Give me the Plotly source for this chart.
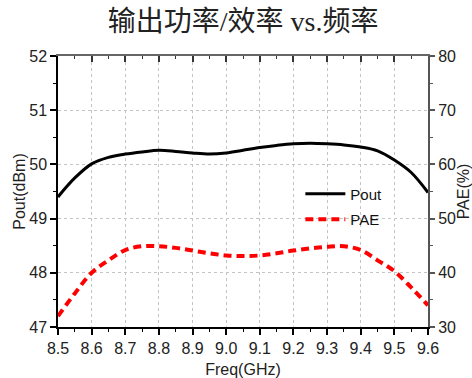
import plotly.graph_objects as go

freq = [8.5, 8.55, 8.6, 8.65, 8.7, 8.75, 8.8, 8.85, 8.9, 8.95, 9.0, 9.05, 9.1, 9.15, 9.2, 9.25, 9.3, 9.35, 9.4, 9.45, 9.5, 9.55, 9.6]
pout = [49.40, 49.75, 50.01, 50.13, 50.19, 50.23, 50.26, 50.24, 50.21, 50.19, 50.21, 50.26, 50.31, 50.35, 50.38, 50.39, 50.38, 50.36, 50.32, 50.25, 50.08, 49.85, 49.48]
pae = [32.0, 36.2, 40.0, 42.3, 44.2, 44.9, 44.9, 44.6, 44.1, 43.6, 43.2, 43.1, 43.2, 43.6, 44.1, 44.5, 44.8, 44.9, 44.2, 42.3, 40.3, 37.3, 34.0]

x_ticks = [8.5, 8.6, 8.7, 8.8, 8.9, 9.0, 9.1, 9.2, 9.3, 9.4, 9.5, 9.6]
x_labels = ["8.5", "8.6", "8.7", "8.8", "8.9", "9.0", "9.1", "9.2", "9.3", "9.4", "9.5", "9.6"]

font_sans = "Liberation Sans, Arial, sans-serif"

fig = go.Figure()
fig.add_trace(go.Scatter(x=freq, y=pout, name="Pout", mode="lines", legendgroup="a",
                         line=dict(color="black", width=3, shape="spline"), yaxis="y"))
fig.add_trace(go.Scatter(x=freq, y=pae, name="PAE", mode="lines", legendgroup="b",
                         line=dict(color="#ff0000", width=4, dash="8px,5px", shape="spline"), yaxis="y2"))
fig.add_trace(go.Scatter(x=[8.5, 9.6], y=[47, 47], xaxis="x2", yaxis="y", mode="lines",
                         line=dict(width=0), showlegend=False, hoverinfo="skip"))

fig.update_layout(
    width=472, height=378,
    margin=dict(l=58, r=44, t=56, b=51),
    paper_bgcolor="white", plot_bgcolor="white",
    title=dict(text="输出功率/效率 vs.频率", x=0.515, xanchor="center", y=0.945, yanchor="middle",
               font=dict(family="Liberation Serif, Noto Sans CJK SC, serif", size=28, color="#222")),
    font=dict(family=font_sans, size=16, color="#222"),
    xaxis=dict(range=[8.5, 9.6], tickvals=x_ticks, ticktext=x_labels, automargin=False,
               showline=True, linecolor="black", linewidth=1.5,
               ticks="outside", ticklen=6, tickwidth=1.5, tickcolor="black",
               minor=dict(dtick=0.05, tick0=8.5, ticks="outside", ticklen=3, tickwidth=1.2, tickcolor="black", showgrid=False),
               showgrid=True, gridcolor="#c4c4c4", griddash="dot", gridwidth=1,
               zeroline=False,
               title=dict(text="Freq(GHz)", font=dict(size=16), standoff=8),
               tickfont=dict(size=16)),
    xaxis2=dict(range=[8.5, 9.6], overlaying="x", side="top", tickvals=x_ticks, automargin=False,
                showticklabels=False, showline=True, linecolor="#666", linewidth=1.5,
                ticks="inside", ticklen=6, tickwidth=1.5, tickcolor="#333",
                minor=dict(dtick=0.05, tick0=8.5, ticks="inside", ticklen=3, tickwidth=1.2, tickcolor="#333", showgrid=False),
                showgrid=False, zeroline=False),
    yaxis=dict(range=[47, 52], dtick=1, tick0=47, automargin=False,
               showline=True, linecolor="black", linewidth=1.5,
               ticks="outside", ticklen=6, tickwidth=1.5, tickcolor="black",
               minor=dict(dtick=0.5, ticks="outside", ticklen=3, tickwidth=1.2, tickcolor="black", showgrid=False),
               showgrid=True, gridcolor="#c4c4c4", griddash="dot", gridwidth=1,
               zeroline=False,
               title=dict(text="Pout(dBm)", font=dict(size=16), standoff=0),
               tickfont=dict(size=16)),
    yaxis2=dict(range=[30, 80], dtick=10, tick0=30, overlaying="y", side="right", automargin=False,
                showline=True, linecolor="#555", linewidth=2,
                ticks="outside", ticklen=5, tickwidth=1.5, tickcolor="#555",
                minor=dict(dtick=5, ticks="outside", ticklen=3, tickwidth=1.2, tickcolor="#555", showgrid=False),
                showgrid=False, zeroline=False,
                title=dict(text="PAE(%)", font=dict(size=16), standoff=6),
                tickfont=dict(size=16)),
    legend=dict(x=0.655, y=0.552, xanchor="left", yanchor="top", bgcolor="rgba(0,0,0,0)",
                font=dict(size=15, color="#111"), tracegroupgap=3, itemwidth=40),
    showlegend=True,
)

fig.write_html("out.html", config={"displayModeBar": False},
               post_script="document.body.style.margin='0';document.body.style.overflow='hidden';")
